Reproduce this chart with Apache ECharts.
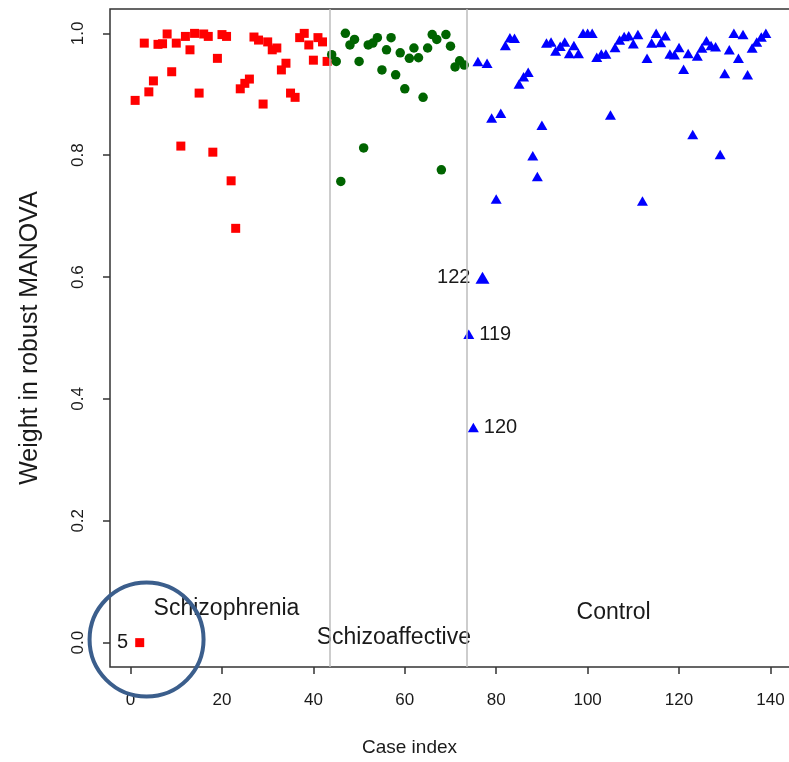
<!DOCTYPE html>
<html><head><meta charset="utf-8">
<script src="https://cdn.jsdelivr.net/npm/echarts@6/dist/echarts.min.js"></script>
<style>html,body{margin:0;padding:0;background:#fff}#c{width:789px;height:762px}</style>
</head><body><div id="c"></div>
<script>
// ---- data ----
const schizophreniaStart = 1;
const schizophreniaW = [0.890, 0, 0.984, 0.904, 0.922, 0.982, 0.983, 0.999, 0.937, 0.984, 0.815, 0.995, 0.973, 1.0, 0.902, 0.999, 0.995, 0.805, 0.959, 0.998, 0.995, 0.758, 0.680, 0.909, 0.918, 0.925, 0.994, 0.989, 0.884, 0.986, 0.973, 0.976, 0.940, 0.951, 0.902, 0.895, 0.993, 1.0, 0.981, 0.956, 0.993, 0.986, 0.954];
const schizoaffectiveStart = 44;
const schizoaffectiveW = [0.965, 0.954, 0.757, 1.0, 0.981, 0.990, 0.954, 0.812, 0.981, 0.984, 0.993, 0.940, 0.973, 0.993, 0.932, 0.968, 0.909, 0.959, 0.976, 0.960, 0.895, 0.976, 0.998, 0.990, 0.776, 0.998, 0.979, 0.945, 0.955, 0.948];
const controlStart = 74;
const controlW = [0.506, 0.353, 0.954, 0.599, 0.951, 0.861, 0.728, 0.869, 0.980, 0.993, 0.992, 0.917, 0.929, 0.936, 0.799, 0.765, 0.849, 0.984, 0.986, 0.971, 0.979, 0.986, 0.967, 0.980, 0.967, 1.0, 1.0, 1.0, 0.961, 0.966, 0.966, 0.866, 0.977, 0.989, 0.995, 0.996, 0.983, 0.998, 0.725, 0.959, 0.984, 1.0, 0.985, 0.996, 0.966, 0.965, 0.977, 0.941, 0.967, 0.834, 0.963, 0.976, 0.988, 0.980, 0.978, 0.801, 0.934, 0.973, 1.0, 0.959, 0.998, 0.932, 0.976, 0.986, 0.994, 1.0];
const labeledIndex = [2, 74, 75, 77];
const labeledText = ['5', '119', '120', '122'];
const groupBoundaries = [43.5, 73.5];
const groupNames = ['Schizophrenia', 'Schizoaffective', 'Control'];
const groupNameX = [21.1, 57.7, 105.8];
const groupNameY = [0.055, 0.007, 0.048];
const xTicks = [0, 20, 40, 60, 80, 100, 120, 140];
const yTicks = [0, 0.2, 0.4, 0.6, 0.8, 1.0];

// ---- chart ----
const FONT = 'Liberation Sans, Arial, sans-serif';
const TXT = '#1a1a1a';
const labelPos = {'5': 'left', '119': 'right', '120': 'right', '122': 'left'};
function build(start, vals) {
  return vals.map((v, i) => {
    const idx = start + i;
    const k = labeledIndex.indexOf(idx);
    const item = {value: [idx, v]};
    if (k >= 0) {
      const t = labeledText[k];
      item.label = {show: true, formatter: t, position: labelPos[t], distance: t === '5' ? 7 : 5,
        fontSize: 20, fontFamily: FONT, color: TXT};
    }
    return item;
  });
}
const chart = echarts.init(document.getElementById('c'), null, {renderer: 'canvas'});
const option = {
  animation: false,
  backgroundColor: '#fff',
  grid: {left: 110, right: -2, top: 9, bottom: 95, show: true, borderColor: '#333', borderWidth: 1.5,
    containLabel: false, outerBoundsMode: 'none'},
  xAxis: {
    type: 'value', min: -4.5, max: 144.5,
    axisLine: {show: false, onZero: false},
    splitLine: {show: false},
    axisTick: {show: true, inside: false, length: 7, customValues: xTicks, lineStyle: {color: '#333', width: 1.5}},
    axisLabel: {customValues: xTicks, margin: 25, fontSize: 17, fontFamily: FONT, color: TXT},
    name: 'Case index', nameLocation: 'middle', nameGap: 71,
    nameTextStyle: {fontSize: 19, fontFamily: FONT, color: TXT, padding: [0, 82, 0, 0]}
  },
  yAxis: {
    type: 'value', min: -0.04, max: 1.04,
    axisLine: {show: false, onZero: false},
    splitLine: {show: false},
    axisTick: {show: true, inside: false, length: 7, customValues: yTicks, lineStyle: {color: '#333', width: 1.5}},
    axisLabel: {customValues: yTicks, rotate: 90, margin: 23, fontSize: 17, fontFamily: FONT, color: TXT,
      formatter: v => v.toFixed(1)},
    name: 'Weight in robust MANOVA', nameLocation: 'middle', nameGap: 67,
    nameTextStyle: {fontSize: 25, fontFamily: FONT, color: TXT}
  },
  series: [
    {type: 'scatter', symbol: 'rect', symbolSize: 9, itemStyle: {color: '#ff0000', opacity: 1},
      data: build(schizophreniaStart, schizophreniaW),
      markLine: {silent: true, symbol: 'none', label: {show: false},
        lineStyle: {color: '#bdbdbd', width: 1.5, type: 'solid'},
        data: groupBoundaries.map(b => ({xAxis: b}))}},
    {type: 'scatter', symbol: 'circle', symbolSize: 9.5, itemStyle: {color: '#006400', opacity: 1},
      data: build(schizoaffectiveStart, schizoaffectiveW)},
    {type: 'scatter', symbol: 'triangle', itemStyle: {color: '#0000ff', opacity: 1},
      symbolSize: (val) => val[0] === 77 ? [14, 12] : [11, 9.5],
      data: build(controlStart, controlW)},
    {type: 'scatter', symbolSize: 1, silent: true, itemStyle: {color: 'rgba(255,255,255,0)', opacity: 1},
      data: groupNames.map((n, i) => ({value: [groupNameX[i], groupNameY[i]], name: n})),
      label: {show: true, position: [0, 0], align: 'center', verticalAlign: 'middle', opacity: 1,
        formatter: p => p.name, fontSize: 23, fontFamily: FONT, color: TXT, textBorderWidth: 0}}
  ]
};
chart.setOption(option);
const c = chart.convertToPixel({gridIndex: 0}, [3.5, 0.005]);
chart.setOption({graphic: [{type: 'circle', z: 100, shape: {cx: c[0], cy: c[1], r: 57},
  style: {fill: 'none', stroke: '#3b5e8c', lineWidth: 4}}]});
</script>
</body></html>
